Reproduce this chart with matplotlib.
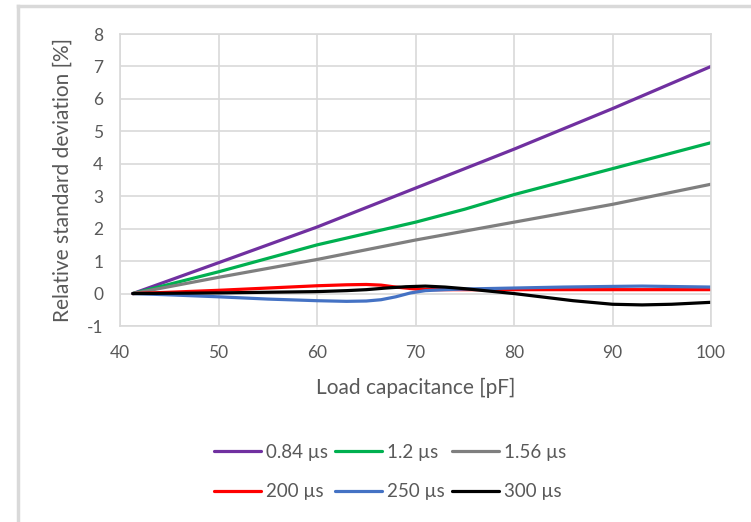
import matplotlib.pyplot as plt
from matplotlib.lines import Line2D

plt.rcParams['font.family'] = ['Lato', 'DejaVu Sans']
plt.rcParams['axes.unicode_minus'] = False

# --- data ---
x_purple = [41.3, 50, 60, 70, 80, 90, 100]
y_purple = [0, 0.95, 2.05, 3.25, 4.45, 5.7, 7.0]

x_green = [41.3, 50, 60, 65, 70, 75, 80, 90, 100]
y_green = [0, 0.67, 1.5, 1.85, 2.2, 2.6, 3.05, 3.85, 4.65]

x_gray = [41.3, 50, 60, 70, 80, 90, 100]
y_gray = [0, 0.5, 1.05, 1.65, 2.2, 2.75, 3.37]

x_red = [41.3, 45, 50, 55, 60, 63, 65, 66.5, 68, 70, 72, 75, 80, 90, 100]
y_red = [0, 0.04, 0.1, 0.17, 0.24, 0.27, 0.28, 0.26, 0.2, 0.14, 0.12, 0.12, 0.12, 0.12, 0.12]

x_blue = [41.3, 45, 50, 55, 60, 63, 65, 66.5, 68, 69.5, 71, 73, 75, 80, 85, 90, 93, 100]
y_blue = [0, -0.04, -0.1, -0.17, -0.22, -0.24, -0.23, -0.19, -0.1, 0.02, 0.09, 0.12, 0.14, 0.17, 0.2, 0.22, 0.23, 0.2]

x_black = [41.3, 50, 55, 60, 63, 65, 67, 69, 71, 73, 75, 78, 80, 83, 86, 90, 93, 96, 100]
y_black = [0, 0.02, 0.04, 0.06, 0.09, 0.12, 0.17, 0.21, 0.23, 0.2, 0.15, 0.06, 0.0, -0.11, -0.22, -0.33, -0.35, -0.33, -0.27]

series = [
    (x_purple, y_purple, '#7030A0', '0.84 µs'),
    (x_green, y_green, '#00B050', '1.2 µs'),
    (x_gray, y_gray, '#7F7F7F', '1.56 µs'),
    (x_red, y_red, '#FF0000', '200 µs'),
    (x_blue, y_blue, '#4472C4', '250 µs'),
    (x_black, y_black, '#000000', '300 µs'),
]

fig = plt.figure(figsize=(7.51, 5.22), dpi=100)
ax = fig.add_axes([120 / 751, 1 - 326 / 522, 591 / 751, 292 / 522])

handles = []
for xs, ys, c, lab in series:
    h, = ax.plot(xs, ys, color=c, lw=2.3, label=lab, solid_capstyle='round')
    handles.append(h)

ax.set_xlim(40, 100)
ax.set_ylim(-1, 8)
ax.set_xticks(range(40, 101, 10))
ax.set_yticks(range(-1, 9))
ax.grid(True, color='#d9d9d9', lw=1.2)
ax.set_axisbelow(True)
for s in ax.spines.values():
    s.set_color('#d9d9d9')
    s.set_linewidth(1.2)
ax.tick_params(length=0, labelsize=12.5, labelcolor='#595959')
ax.tick_params(axis='x', pad=14)
ax.tick_params(axis='y', pad=12)

ax.set_xlabel('Load capacitance [pF]', fontsize=15, color='#595959', labelpad=12)
ax.set_ylabel('Relative standard deviation [%]', fontsize=15, color='#595959', labelpad=10)

# legend fills row by row like the original
order = [0, 3, 1, 4, 2, 5]
fig.legend([handles[i] for i in order], [series[i][3] for i in order],
           loc='center', bbox_to_anchor=(390 / 751, 1 - 472 / 522), ncol=3,
           frameon=False, fontsize=13.5, labelcolor='#595959', handlelength=2.5,
           handletextpad=0.25, columnspacing=0.4, labelspacing=1.2)

# outer chart frame (only top and left edges are visible)
fig.add_artist(Line2D([18 / 751, 1], [1 - 6 / 522, 1 - 6 / 522], color='#d9d9d9', lw=2.5))
fig.add_artist(Line2D([18 / 751, 18 / 751], [0, 1 - 6 / 522], color='#d9d9d9', lw=2.5))

fig.savefig('out.png', dpi=100)
